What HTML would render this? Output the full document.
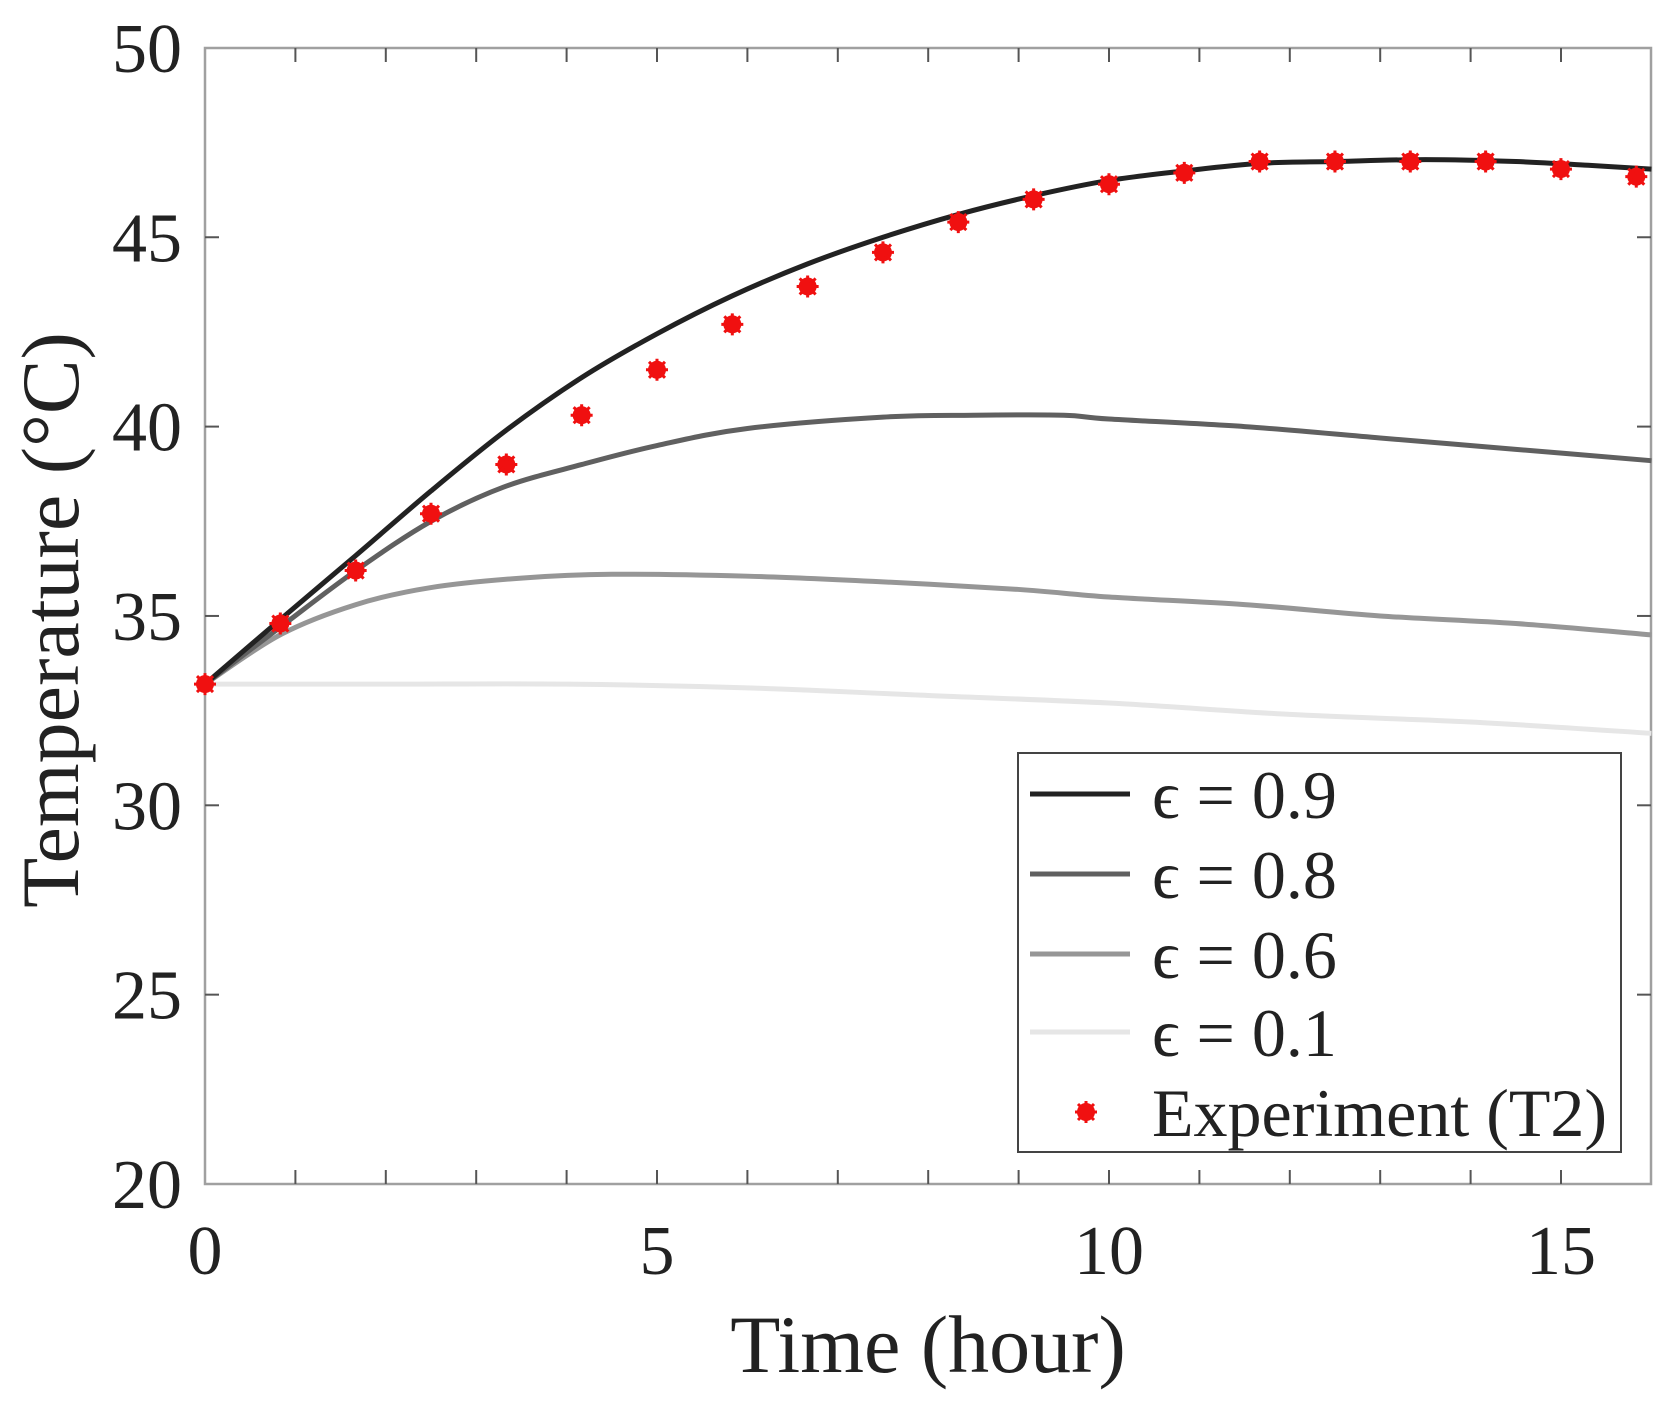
<!DOCTYPE html>
<html><head><style>
html,body{margin:0;padding:0;background:#fff;}
svg{display:block;font-family:"Liberation Serif",serif;}
</style></head><body>
<svg id="s" width="1672" height="1405" xmlns="http://www.w3.org/2000/svg">
<rect width="1672" height="1405" fill="#fff"/>
<g id="g"></g>
</svg>
<script>
var X0=205,XS=90.4,Y0=1184,YS=37.87;
function px(x){return X0+x*XS;} function py(y){return Y0-(y-20)*YS;}
var g=document.getElementById('g'),h='';
h+='<rect x="205" y="48" width="1446" height="1136" fill="none" stroke="#a0a0a0" stroke-width="2.5"/>';
for(var i=1;i<16;i++){var x=px(i);h+='<line x1="'+x+'" y1="1184" x2="'+x+'" y2="1170" stroke="#555" stroke-width="2"/><line x1="'+x+'" y1="48" x2="'+x+'" y2="62" stroke="#555" stroke-width="2"/>';}
for(var v=25;v<50;v+=5){var y=py(v);h+='<line x1="205" y1="'+y+'" x2="219" y2="'+y+'" stroke="#555" stroke-width="2"/><line x1="1651" y1="'+y+'" x2="1637" y2="'+y+'" stroke="#555" stroke-width="2"/>';}
for(var v=20;v<=50;v+=5){h+='<text x="182" y="'+(py(v)+24)+'" font-size="70" text-anchor="end" fill="#222">'+v+'</text>';}
[0,5,10,15].forEach(function(v){h+='<text x="'+px(v)+'" y="1274" font-size="70" text-anchor="middle" fill="#222">'+v+'</text>';});
h+='<text x="928" y="1372" font-size="82" text-anchor="middle" fill="#222">Time (hour)</text>';
h+='<text transform="translate(78,620) rotate(-90)" font-size="82" text-anchor="middle" fill="#222">Temperature (°C)</text>';
function path(pts){var p=pts.map(function(a){return [px(a[0]),py(a[1])];});var d='M'+p[0][0]+','+p[0][1];
for(var i=0;i<p.length-1;i++){var p0=p[i-1]||p[i],p1=p[i],p2=p[i+1],p3=p[i+2]||p2;
d+=' C'+(p1[0]+(p2[0]-p0[0])/6)+','+(p1[1]+(p2[1]-p0[1])/6)+' '+(p2[0]-(p3[0]-p1[0])/6)+','+(p2[1]-(p3[1]-p1[1])/6)+' '+p2[0]+','+p2[1];}return d;}
var s={
'#e6e6e6':[[0,33.2],[2,33.2],[4,33.2],[6,33.1],[8,32.9],[10,32.7],[12,32.4],[14,32.2],[16,31.9]],
'#969696':[[0,33.2],[0.83,34.5],[1.67,35.3],[2.5,35.75],[3.5,36.0],[4.5,36.1],[6,36.05],[7.5,35.9],[9,35.7],[10,35.5],[11.5,35.3],[13,35],[14.5,34.8],[16,34.5]],
'#606060':[[0,33.2],[0.83,34.7],[1.67,36.2],[2.5,37.5],[3.3,38.4],[4.17,39.0],[5,39.5],[6,39.95],[7.5,40.25],[8.5,40.3],[9.5,40.3],[10,40.2],[11.5,40.0],[13,39.7],[14.5,39.4],[16,39.1]],
'#222':[[0,33.2],[0.83,34.9],[1.67,36.6],[2.5,38.3],[3.33,39.9],[4.17,41.3],[5,42.45],[5.83,43.45],[6.67,44.3],[7.5,45.0],[8.33,45.6],[9.17,46.1],[10,46.5],[10.83,46.75],[11.67,46.95],[12.5,47.0],[13.5,47.05],[14.5,47.0],[15.3,46.9],[16,46.8]]};
for(var c in s)h+='<path d="'+path(s[c])+'" fill="none" stroke="'+c+'" stroke-width="5"/>';
var e=[33.2,34.8,36.2,37.7,39.0,40.3,41.5,42.7,43.7,44.6,45.4,46.0,46.4,46.7,47.0,47.0,47.0,47.0,46.8,46.6];
function star(x,y){return '<circle cx="'+x+'" cy="'+y+'" r="9" fill="#f01010"/><path d="M'+(x-11)+','+y+'h22M'+x+','+(y-11)+'v22M'+(x-8)+','+(y-8)+'l16,16M'+(x+8)+','+(y-8)+'l-16,16" stroke="#f01010" stroke-width="3"/>';}
e.forEach(function(v,k){h+=star(px(k*0.8333),py(v));});
h+='<rect x="1018" y="753" width="603" height="399" fill="#fff" stroke="#444" stroke-width="2"/>';
var L=[['#222','0.9',794],['#606060','0.8',874],['#969696','0.6',954],['#e6e6e6','0.1',1032]];
L.forEach(function(l){h+='<line x1="1030" y1="'+l[2]+'" x2="1130" y2="'+l[2]+'" stroke="'+l[0]+'" stroke-width="5"/><text x="1152" y="'+(l[2]+24)+'" font-size="68" fill="#222">ϵ = '+l[1]+'</text>';});
h+=star(1086,1112);
h+='<text x="1152" y="1136" font-size="68" fill="#222">Experiment (T2)</text>';
g.innerHTML=h;
</script>
</body></html>
